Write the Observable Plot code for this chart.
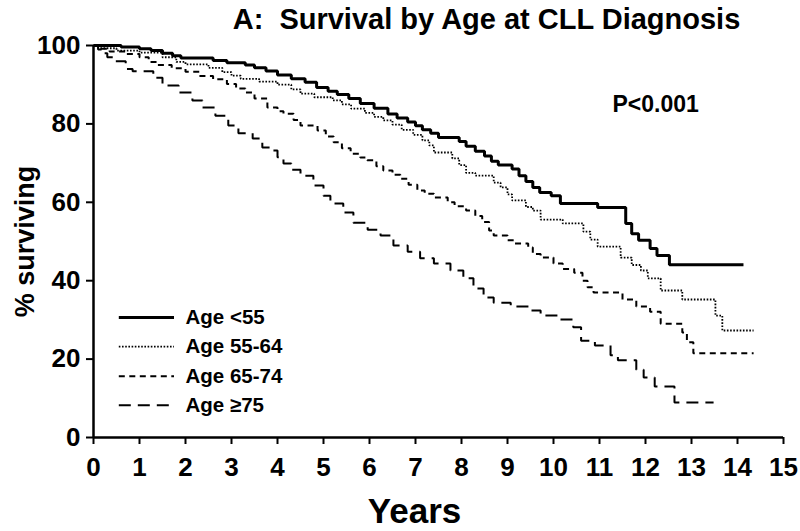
<!DOCTYPE html>
<html>
<head>
<meta charset="utf-8">
<script src="https://cdn.jsdelivr.net/npm/d3@7"></script>
<script src="https://cdn.jsdelivr.net/npm/@observablehq/plot@0.6"></script>
<style>
  html, body { margin: 0; padding: 0; background: #fff; }
  #chart svg { display: block; }
</style>
</head>
<body>
<div id="chart"></div>
<script>
// ---- Data ----
const titleText = "A:  Survival by Age at CLL Diagnosis";
const xLabel = "Years";
const yLabel = "% surviving";
const pValueText = "P<0.001";
const xTicks = [0,1,2,3,4,5,6,7,8,9,10,11,12,13,14,15];
const yTicks = [0,20,40,60,80,100];
const groups = ["Age <55", "Age 55-64", "Age 65-74", "Age \u226575"];

// [years, % surviving] step points (step-after)
const ageUnder55 = [[0,100],[0.6,99.6],[1.0,99.2],[1.25,98.7],[1.5,98],[1.72,97.4],[1.9,96.8],[2.6,96.2],[2.9,95.6],[3.3,95],[3.5,94.3],[3.75,93.5],[4.0,92.5],[4.3,91.5],[4.6,90.6],[4.85,89.3],[5.1,88.3],[5.3,87.5],[5.55,86.5],[5.8,85.2],[6.1,84],[6.4,82.5],[6.6,81.5],[6.83,80.5],[7.0,79.5],[7.15,78.5],[7.33,77.6],[7.5,76.5],[7.95,75.5],[8.1,74.3],[8.3,73],[8.5,71.8],[8.65,70.5],[8.8,69.5],[9.1,68.5],[9.25,66.8],[9.4,65.3],[9.55,63.8],[9.7,62.5],[9.95,61.7],[10.15,59.7],[10.96,58.7],[11.57,54.6],[11.7,52],[11.85,50.3],[12.1,48.2],[12.25,46.4],[12.52,44.1],[14.13,44.1]];
const age55to64 = [[0,100],[0.1,99.3],[0.5,98.7],[1.0,98.2],[1.5,97],[1.8,95.8],[2.0,95.2],[2.5,94.3],[2.8,93.2],[3.0,92.3],[3.2,91.5],[3.6,90.8],[4.0,90],[4.3,88.8],[4.5,87.7],[4.8,86.8],[5.2,86],[5.4,85],[5.6,83.9],[5.9,82.8],[6.1,81.8],[6.3,80.9],[6.5,79.8],[6.7,78.5],[6.95,77.2],[7.15,75.8],[7.3,74.5],[7.4,72.7],[7.8,71.2],[7.95,69.5],[8.1,67.5],[8.3,66.8],[8.7,65],[8.85,63.8],[9.0,62],[9.1,60.5],[9.4,58.8],[9.55,57.9],[9.72,55.6],[10.2,54.6],[10.65,52.5],[10.8,50.5],[10.96,48.7],[11.46,45.9],[11.7,44],[11.9,42.6],[12.05,40.6],[12.33,37.5],[12.8,35.2],[13.52,31.1],[13.67,27.3],[14.35,27.3]];
const age65to74 = [[0,100],[0.1,99.2],[0.35,98.5],[0.7,97.8],[1.0,97],[1.2,95.8],[1.4,95],[1.7,94.2],[2.0,93.3],[2.3,92.2],[2.6,91.4],[2.9,90.2],[3.1,89],[3.3,88],[3.5,86.5],[3.78,84.2],[4.0,83.2],[4.13,82.6],[4.35,81],[4.5,79.6],[4.87,78.3],[5.05,76.8],[5.22,75.3],[5.4,73.8],[5.59,72.4],[5.8,71.4],[5.95,70.7],[6.15,69.2],[6.3,68.1],[6.5,67],[6.67,66],[6.85,64.5],[7.04,63],[7.2,62.2],[7.4,61.2],[7.7,60],[7.85,59],[8.1,57.9],[8.3,56.5],[8.45,55],[8.6,52.8],[8.7,51.5],[9.0,50.3],[9.15,49.5],[9.45,48.5],[9.55,46.8],[9.72,45.9],[10.0,44.4],[10.2,43],[10.45,42],[10.63,40],[10.74,38.3],[10.87,37],[11.5,35.2],[11.8,33.4],[12.1,32.1],[12.33,29],[12.8,26.8],[12.9,24.3],[13.04,21.5],[14.35,21.5]];
const age75plus = [[0,100],[0.1,99],[0.2,98],[0.3,97],[0.45,96],[0.7,94],[0.85,93.4],[1.3,91.8],[1.5,89.8],[1.85,88],[2.15,86],[2.37,84.2],[2.65,82.1],[2.93,79.6],[3.15,77.6],[3.46,76.3],[3.67,74],[3.85,73.2],[4.0,71.5],[4.13,69.9],[4.3,68.3],[4.5,66.8],[4.78,64.3],[5.0,61.7],[5.15,59.7],[5.43,57.4],[5.65,54.8],[5.96,53],[6.24,51.5],[6.52,49],[6.83,47.4],[7.1,45.7],[7.4,44.4],[7.76,42.6],[8.04,40.6],[8.26,38],[8.48,35.7],[8.7,34.4],[9.07,33.4],[9.5,32.4],[9.72,31.1],[10.1,30.1],[10.43,28.1],[10.6,24.7],[10.9,23.5],[11.24,21],[11.4,19.7],[11.8,17.3],[11.96,15.3],[12.2,13],[12.63,8.9],[13.48,8.9]];

// ---- Build tables ----
const seriesData = [ageUnder55, age55to64, age65to74, age75plus];
const styles = [
  {strokeWidth: 3, dash: null},
  {strokeWidth: 1.8, dash: "1.6,1.6"},
  {strokeWidth: 2, dash: "6,4.5"},
  {strokeWidth: 2, dash: "12,7"}
];
const rows = seriesData.flatMap((s, i) => s.map(([t, v]) => ({group: groups[i], t, v})));

// legend placement (in data units)
const legendY = [30.6, 23.2, 15.6, 8.2];
const legend = groups.map((g, i) => ({group: g, y: legendY[i], x1: 0.55, x2: 1.75, tx: 2.0}));

const font = "'Liberation Sans', Arial, Helvetica, sans-serif";

const marks = [];
seriesData.forEach((s, i) => {
  const d = rows.filter(r => r.group === groups[i]);
  marks.push(Plot.line(d, {x: "t", y: "v", curve: "step-after", stroke: "black",
    strokeWidth: styles[i].strokeWidth, strokeDasharray: styles[i].dash, strokeLinecap: "butt", strokeLinejoin: "miter"}));
  const L = [legend[i]];
  marks.push(Plot.link(L, {x1: "x1", x2: "x2", y1: "y", y2: "y", stroke: "black",
    strokeWidth: styles[i].strokeWidth, strokeDasharray: styles[i].dash, strokeLinecap: "butt"}));
  marks.push(Plot.text(L, {x: "tx", y: "y", text: "group", textAnchor: "start", fontSize: 20.5, fontWeight: "bold", fill: "black"}));
});

marks.push(Plot.text([pValueText], {x: 12.22, y: 85, text: d => d, fontSize: 23, fontWeight: "bold", fill: "black"}));

// axes
marks.push(Plot.axisX({ticks: xTicks, tickSize: 7, tickPadding: 13, tickFormat: d => String(d), label: null, fontSize: 26, fontWeight: "bold", strokeWidth: 2}));
marks.push(Plot.axisY({ticks: yTicks, tickSize: 7, tickPadding: 6, tickFormat: d => String(d), label: null, fontSize: 26, fontWeight: "bold", strokeWidth: 2}));
marks.push(Plot.ruleX([0], {stroke: "black", strokeWidth: 2.5}));
marks.push(Plot.ruleY([0], {stroke: "black", strokeWidth: 2.5}));

// titles / axis labels
marks.push(Plot.text([titleText], {frameAnchor: "top", dx: 48, dy: -17, lineAnchor: "bottom", text: d => d, fontSize: 29, fontWeight: "bold", fill: "black"}));
marks.push(Plot.text([xLabel], {frameAnchor: "bottom", dx: -24, dy: 85, text: d => d, fontSize: 35, fontWeight: "bold", fill: "black"}));
marks.push(Plot.text([yLabel], {frameAnchor: "left", dx: -68, rotate: -90, textAnchor: "middle", text: d => d, fontSize: 27, fontWeight: "bold", fill: "black"}));

const chart = Plot.plot({
  width: 800,
  height: 531,
  marginLeft: 93,
  marginRight: 17,
  marginTop: 45,
  marginBottom: 94,
  x: {domain: [0, 15]},
  y: {domain: [0, 100]},
  style: {fontFamily: font, background: "white", color: "black", overflow: "visible"},
  marks
});
document.getElementById("chart").appendChild(chart);
</script>
</body>
</html>
